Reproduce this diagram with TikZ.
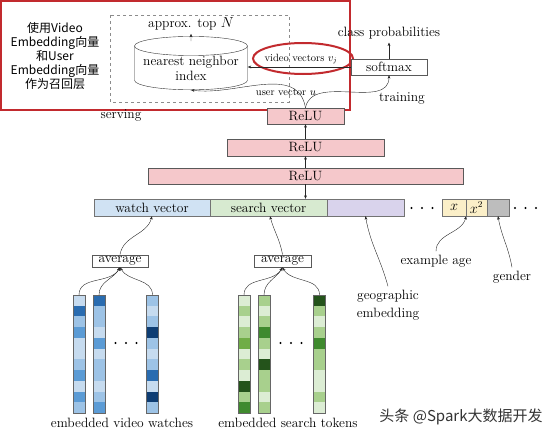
\documentclass[tikz,border=0pt]{standalone}
\usepackage{fontspec}
\newfontfamily\cjk{Noto Sans CJK SC}
\usetikzlibrary{arrows.meta,shapes.geometric,positioning}

\definecolor{callout}{HTML}{C22A2E}
\definecolor{relu fill}{HTML}{F5C8CB}
\definecolor{watch fill}{HTML}{D0E2F3}
\definecolor{search fill}{HTML}{D7EAD0}
\definecolor{geo fill}{HTML}{D9D3EC}
\definecolor{age fill}{HTML}{FBEFC8}
\definecolor{gender fill}{HTML}{BDBDBD}
% shades of the embedding columns
\definecolor{vida}{HTML}{C6DBEF}
\definecolor{vidb}{HTML}{9DC3E6}
\definecolor{vidc}{HTML}{5B9BD5}
\definecolor{vidd}{HTML}{2A6CB0}
\definecolor{vide}{HTML}{0E3D73}
\definecolor{toka}{HTML}{DCEDD4}
\definecolor{tokb}{HTML}{A8D08D}
\definecolor{tokc}{HTML}{70AD47}
\definecolor{tokd}{HTML}{3F8A2E}
\definecolor{toke}{HTML}{24531B}

\tikzset{every node/.style={font=\fontsize{13.5}{15}\selectfont},
    small/.style={font=\fontsize{10.5}{12}\selectfont},
    flow/.style={-{Stealth[length=3.5pt,width=2.8pt]}, black!85},
    layer/.style={draw=black!65, fill=relu fill, minimum height=16pt, inner sep=0pt},
    slot/.style={draw=black!55, minimum height=17pt, inner sep=0pt},
    plainbox/.style={draw=black!65, fill=white, inner sep=0pt, minimum height=12.5pt}}

% name, x, palette, shades from top to bottom
\newcommand\embcolumn[4]{%
  \foreach \s [count=\i from 0] in {#4}
    \fill[#3\s] (#2-6,295+\i*10.73) rectangle ++(12,10.73);
  \node[draw=black!60, minimum width=12pt, minimum height=118pt,
        inner sep=0pt, anchor=north] (#1) at (#2,295) {};}
\newcommand\threedots[2]{%
  \foreach \dx in {-10.5,0,10.5} \fill (#1+\dx,#2) circle (1.2pt);}

\begin{document}
\begin{tikzpicture}[x=1pt,y=-1pt]
  \useasboundingbox (0,0) rectangle (551,436);

  % serving part
  \draw[callout, line width=1.5pt] (1,1) rectangle (350,110);
  \draw[black!45, dashed] (110,15) rectangle (289,102);
  \node[align=center, font=\cjk\fontsize{12}{14}\selectfont] (recall) at (55,56)
      {使用Video\\Embedding向量\\和User\\Embedding向量\\作为召回层};
  \node[cylinder, shape border rotate=90, aspect=0.2, draw=black!80, fill=white,
        minimum width=113pt, minimum height=50pt, inner sep=0pt, align=center]
      (nn) at (191,68) {nearest neighbor\\index};
  \node (topn) at (191,24) {approx. top $N$};
  \node[small] (vidvec) at (301,59) {video vectors $v_j$};
  \node[ellipse, draw=callout, line width=2pt, minimum width=100pt,
        minimum height=31pt] (ring) at (303,58.5) {};
  \node[small] (uservec) at (286,92) {user vector $u$};
  \node (serving) at (121,115) {serving};

  % training part
  \node[plainbox, minimum width=76pt, minimum height=16pt] (softmax) at (389,67) {softmax};
  \node (probs) at (389,33) {class probabilities};
  \node (training) at (402,98) {training};

  \node[layer, minimum width=77pt] (relu3) at (305.5,116) {ReLU};
  \node[layer, minimum width=157pt, minimum height=17pt] (relu2) at (305.5,147.5) {ReLU};
  \node[layer, minimum width=315pt] (relu1) at (305.5,176) {ReLU};

  % input features
  \node[slot, fill=watch fill, minimum width=116pt] (watch) at (152,207.5) {watch vector};
  \node[slot, fill=search fill, minimum width=117pt] (search) at (268.5,207.5) {search vector};
  \node[slot, fill=geo fill, minimum width=77pt] (geo) at (365.5,207.5) {};
  \node[slot, fill=age fill, minimum width=24pt] (agex) at (454,207.5) {$x$};
  \node[slot, fill=age fill, minimum width=21pt] (agexx) at (476.5,207.5) {$x^2$};
  \node[slot, fill=gender fill, minimum width=22pt] (gender) at (498,207.5) {};
  \threedots{422}{208}
  \threedots{525.5}{208}

  \node[plainbox, minimum width=56pt] (avgL) at (120,261) {average};
  \node[plainbox, minimum width=57pt] (avgR) at (282.5,261) {average};

  \embcolumn{colA}{79}{vid}{a,d,b,c,a,a,b,c,a,c,b}
  \embcolumn{colB}{99}{vid}{d,b,b,a,c,a,b,b,a,b,c}
  \embcolumn{colC}{152.5}{vid}{b,a,b,e,b,a,b,d,a,e,b}
  \embcolumn{colD}{244}{tok}{a,b,a,b,c,a,b,a,e,b,d}
  \embcolumn{colE}{264}{tok}{b,a,b,d,b,a,e,b,b,a,b}
  \embcolumn{colF}{319.5}{tok}{e,b,a,b,d,b,b,a,a,b,a}
  \threedots{126}{343}
  \threedots{291}{343}

  \node (watches) at (122,423) {embedded video watches};
  \node (tokens) at (288,423) {embedded search tokens};
  \node[align=center, font=\fontsize{13.5}{18}\selectfont] (geoLabel) at (388,305)
      {geographic\\embedding};
  \node (ageLabel) at (436,261) {example age};
  \node (genderLabel) at (512,277) {gender};
  \node[font=\cjk\fontsize{15}{17}\selectfont, black!80] (mark) at (461,417)
      {头条 @Spark大数据开发};

  % connectors
  \draw[flow] ([yshift=-5pt]nn.north) -- (topn.south);
  \draw[flow] (softmax.west) -- (softmax.west -| nn.east);
  \draw[flow] (softmax.north) -- (probs.south);
  \draw[flow] (relu3.north) to[out=80, in=-90] (softmax.south);
  \draw[flow] (relu3.north) to[out=100, in=-8] (nn.south);
  \draw[flow] (relu2.north) -- (relu3.south);
  \draw[flow] (relu1.north) -- (relu2.south);
  \draw[flow] (relu1.south) -- (relu1.south |- search.north);

  \draw[flow] (avgL.north) to[out=80, in=-105] (watch.south);
  \draw[flow] (avgR.north) to[out=100, in=-75] ([xshift=1.5pt]search.south);
  \draw[flow] (geoLabel.north) to[out=105, in=-80] (geo.south);
  \draw[flow] (ageLabel.north) to[out=90, in=-105] (agex.south east);
  \draw[flow] (genderLabel.north) to[out=100, in=-80] (gender.south);

  \foreach \c in {colA,colB} \draw[flow] (\c.north) to[out=90, in=-120] (avgL.south);
  \draw[flow] (colC.north) to[out=90, in=-60] (avgL.south);
  \foreach \c in {colD,colE} \draw[flow] (\c.north) to[out=90, in=-120] (avgR.south);
  \draw[flow] (colF.north) to[out=90, in=-60] (avgR.south);
\end{tikzpicture}
\end{document}
